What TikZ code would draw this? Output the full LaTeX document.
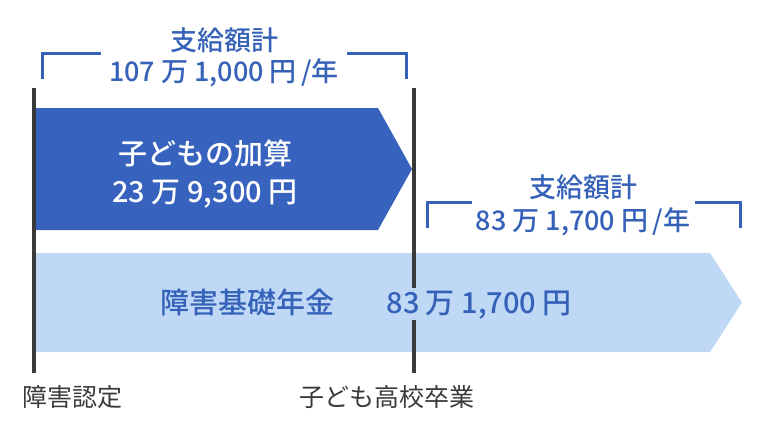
\documentclass[tikz,border=0pt]{standalone}
\usepackage{fontspec}
\setmainfont{Noto Sans CJK JP}[BoldFont={Noto Sans CJK JP Medium}]
\usetikzlibrary{positioning}
\definecolor{darkbar}{HTML}{3762BD}
\definecolor{lightbar}{HTML}{BED8F6}
\definecolor{labelblue}{HTML}{3561B8}
\definecolor{markgray}{HTML}{3A3A3A}
\newcommand{\unitgap}{\hspace{.22em}}
\tikzset{
    bar label/.style={
            font=\fontsize{29}{38}\selectfont\bfseries,
            align=center
        },
    total/.style={
            text=labelblue,
            font=\fontsize{27}{33}\selectfont\bfseries,
            inner sep=0pt
        },
    bracket/.style={
            draw=labelblue,
            line width=3pt
        },
    marker/.style={
            draw=markgray,
            line width=3.5pt
        },
    event/.style={
            text=markgray,
            font=\fontsize{25}{30}\selectfont,
            inner sep=0pt
        }
}

\begin{document}
\begin{tikzpicture}[x=1pt,y=-1pt]
  \useasboundingbox (0,0) rectangle (768,442);
  \fill[darkbar] (36,108) -- (378,108) -- (412,169) -- (378,230) -- (36,230) -- cycle;
  \fill[lightbar] (36,253) -- (710,253) -- (742,302.5) -- (710,352) -- (36,352) -- cycle;
  \coordinate (start top) at (34,88);
  \coordinate (start bottom) at (34,373);
  \coordinate (grad top) at (414,88);
  \coordinate (grad bottom) at (414,373);
  \draw[marker] (start top) -- (start bottom);
  \draw[marker] (grad top) -- (grad bottom);
  \node[bar label, text=white] (child) at (205,174) {子どもの加算\\23\unitgap 万 9,300\unitgap 円};
  \node[bar label, text=labelblue, fill=lightbar, inner xsep=2pt, inner ysep=1pt] (basic) at (366,304) {障害基礎年金\hspace{1.8em}83\unitgap 万 1,700\unitgap 円};
  \node[total] (sumA title) at (224,40) {支給額計};
  \node[total] (sumA amount) at (224,73) {107\unitgap 万 1,000\unitgap 円\,/年};
  \draw[bracket] (42,79) |- (101,53);
  \draw[bracket] (347,53) -| (406,79);
  \node[total] (sumB title) at (583,187) {支給額計};
  \node[total] (sumB amount) at (583,222) {83\unitgap 万 1,700\unitgap 円\,/年};
  \draw[bracket] (427,228) |- (472,202);
  \draw[bracket] (695,202) -| (740,228);
  \node[event] (start label) at (72,397) {障害認定};
  \node[event] (grad label) at (387,397) {子ども高校卒業};
\end{tikzpicture}
\end{document}
